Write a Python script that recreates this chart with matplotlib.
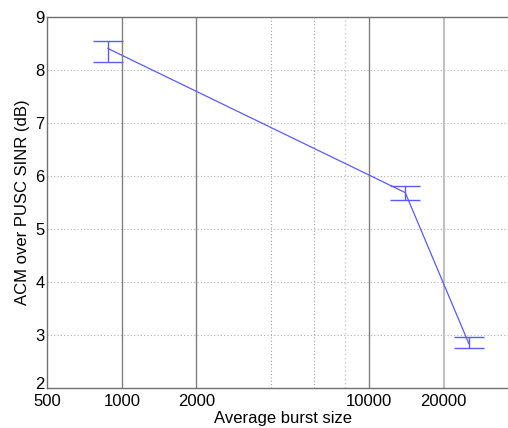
import matplotlib
matplotlib.use('Agg')
import matplotlib.pyplot as plt
import matplotlib.transforms as mtransforms
from matplotlib.ticker import FixedLocator, NullLocator, FixedFormatter

plt.rcParams['font.family'] = ['Liberation Sans', 'DejaVu Sans']

# data
burst_size = [880, 14000, 25300]
sinr_gain = [8.41, 5.69, 2.84]
err_low = [0.25, 0.14, 0.08]
err_high = [0.15, 0.13, 0.12]

xticks = [500, 1000, 2000, 10000, 20000]
xtick_labels = ['500', '1000', '2000', '10000', '20000']
yticks = [2, 3, 4, 5, 6, 7, 8, 9]

fig = plt.figure(figsize=(5.08, 4.28), dpi=100)
ax = fig.add_axes([47.3 / 508, 1 - 388 / 428, (518 - 47.3) / 508, (388 - 17.3) / 428])
ax.set_xscale('log')
ax.set_xlim(500, 40000)
ax.set_ylim(2, 9)

# grid lines
for y in yticks[1:-1]:
    ax.axhline(y, color='#b0b0b0', lw=0.8, ls=(0, (1, 2)), zorder=0)
for x in [1000, 2000, 10000]:
    ax.axvline(x, color='#808080', lw=1.0, zorder=0)
ax.axvline(20000, color='#c0c0c0', lw=1.5, zorder=0)
for x in [4000, 6000]:
    ax.axvline(x, color='#a0a0a0', lw=0.8, ls=(0, (1, 2)), zorder=0)
ax.axvline(8000, color='#c8c8c8', lw=1.0, ls=(0, (1, 2)), zorder=0)

ax.errorbar(burst_size, sinr_gain, yerr=[err_low, err_high], color='#5a5aff',
            lw=0.9, elinewidth=1.0, capsize=11, capthick=1.0)

ax.xaxis.set_major_locator(FixedLocator(xticks))
ax.xaxis.set_major_formatter(FixedFormatter(xtick_labels))
ax.xaxis.set_minor_locator(NullLocator())
ax.set_yticks(yticks)
ax.tick_params(length=0, labelsize=12)
ax.tick_params(axis='x', pad=4)
ax.tick_params(axis='y', pad=2)

# lift the "2" a little so it sits above "500", as in the original
fig.canvas.draw()
lab2 = ax.get_yticklabels()[0]
lab2.set_transform(lab2.get_transform() + mtransforms.ScaledTranslation(0, 5 / 100, fig.dpi_scale_trans))

for s in ['top', 'left', 'bottom', 'right']:
    ax.spines[s].set_color('#707070')
    ax.spines[s].set_linewidth(1.0)

ax.set_xlabel('Average burst size', fontsize=12, labelpad=2)
ax.set_ylabel('ACM over PUSC SINR (dB)', fontsize=12, labelpad=4)

fig.savefig('out.png', dpi=100)
